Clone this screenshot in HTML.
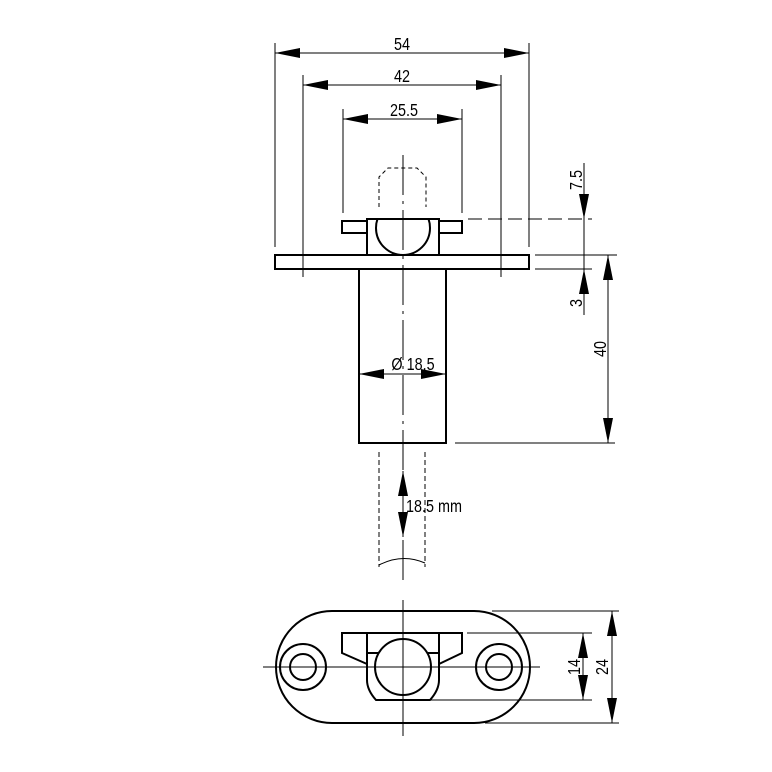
<!DOCTYPE html>
<html><head><meta charset="utf-8"><style>
html,body{margin:0;padding:0;background:#fff}
svg{display:block}
text{font-family:"Liberation Sans",sans-serif;font-size:18px;fill:#000}
</style></head><body>
<svg width="772" height="772" viewBox="0 0 772 772" xmlns="http://www.w3.org/2000/svg">
<defs>
<marker id="a" markerWidth="26" markerHeight="10" refX="25" refY="5" orient="auto-start-reverse" markerUnits="userSpaceOnUse">
<path d="M0,0 L25,5 L0,10 Z" fill="#000"/></marker>
<clipPath id="c"><rect x="360" y="219" width="90" height="40"/></clipPath>
</defs>
<g stroke="#000" fill="none" stroke-width="1">
<line x1="275" y1="43" x2="275" y2="247"/>
<line x1="529" y1="43" x2="529" y2="247"/>
<line x1="303" y1="75" x2="303" y2="277"/>
<line x1="501" y1="75" x2="501" y2="277"/>
<line x1="343" y1="109" x2="343" y2="213"/>
<line x1="462" y1="109" x2="462" y2="213"/>
<line x1="275" y1="53" x2="529" y2="53" marker-start="url(#a)" marker-end="url(#a)"/>
<line x1="303" y1="85" x2="501" y2="85" marker-start="url(#a)" marker-end="url(#a)"/>
<line x1="343" y1="119" x2="462" y2="119" marker-start="url(#a)" marker-end="url(#a)"/>
<line x1="468" y1="219" x2="592" y2="219" stroke-dasharray="14,6"/>
<line x1="535" y1="255" x2="617" y2="255"/>
<line x1="535" y1="269" x2="592" y2="269"/>
<line x1="455" y1="443" x2="615" y2="443"/>
<line x1="584" y1="163" x2="584" y2="219" marker-end="url(#a)"/>
<line x1="584" y1="315" x2="584" y2="269" marker-end="url(#a)"/>
<line x1="584" y1="219" x2="584" y2="269"/>
<line x1="608" y1="255" x2="608" y2="443" marker-start="url(#a)" marker-end="url(#a)"/>
<line x1="403" y1="155" x2="403" y2="580" stroke-dasharray="40,6,3,6"/>
<path d="M379,207 V177 L388,168 H417 L426,177 V207" stroke-dasharray="4,3"/>
<g stroke-width="2">
<rect x="275" y="255" width="254" height="14"/>
<rect x="359" y="269" width="87" height="174"/>
<path d="M367,255 V219 H439 V255"/>
<path d="M367,221 H342 V233 H367 M439,221 H462 V233 H439"/>
<circle cx="403" cy="228" r="27" clip-path="url(#c)"/>
</g>
<line x1="359" y1="374" x2="446" y2="374" marker-start="url(#a)" marker-end="url(#a)"/>
<line x1="379" y1="452" x2="379" y2="567" stroke-dasharray="5,3"/>
<line x1="425" y1="452" x2="425" y2="567" stroke-dasharray="5,3"/>
<path d="M379,565 Q402,553 425,563"/>
<line x1="403" y1="471" x2="403" y2="537" marker-start="url(#a)" marker-end="url(#a)"/>
<line x1="263" y1="667" x2="540" y2="667"/>
<line x1="403" y1="600" x2="403" y2="736"/>
<g stroke-width="2">
<path d="M332,611 H474 A56,56 0 0 1 474,723 H332 A56,56 0 0 1 332,611 Z"/>
<circle cx="303" cy="667" r="23"/><circle cx="303" cy="667" r="13"/>
<circle cx="499" cy="667" r="23"/><circle cx="499" cy="667" r="13"/>
<path d="M367,633 H342 V653 L367,664 M439,633 H462 V653 L439,664"/>
<path d="M367,633 H439 V680 Q439,690 430,700 H376 Q367,690 367,680 Z"/>
<circle cx="403" cy="667" r="28"/>
<line x1="367" y1="653" x2="378" y2="653"/><line x1="428" y1="653" x2="439" y2="653"/>
</g>
<line x1="492" y1="611" x2="619" y2="611"/>
<line x1="467" y1="633" x2="592" y2="633"/>
<line x1="425" y1="700" x2="592" y2="700"/>
<line x1="485" y1="723" x2="619" y2="723"/>
<line x1="583" y1="633" x2="583" y2="700" marker-start="url(#a)" marker-end="url(#a)"/>
<line x1="612" y1="611" x2="612" y2="723" marker-start="url(#a)" marker-end="url(#a)"/>
</g>
<g>
<text text-anchor="middle" transform="translate(402 50) scale(0.8 1)">54</text>
<text text-anchor="middle" transform="translate(402 82) scale(0.8 1)">42</text>
<text text-anchor="middle" transform="translate(404 116) scale(0.8 1)">25.5</text>
<text text-anchor="middle" transform="translate(413 370) scale(0.8 1)">Ø 18.5</text>
<text transform="translate(406 512) scale(0.8 1)">18.5 mm</text>
<text transform="translate(582 180) rotate(-90) scale(0.8 1)" text-anchor="middle">7.5</text>
<text transform="translate(582 303) rotate(-90) scale(0.8 1)" text-anchor="middle">3</text>
<text transform="translate(606 349) rotate(-90) scale(0.8 1)" text-anchor="middle">40</text>
<text transform="translate(580 667) rotate(-90) scale(0.8 1)" text-anchor="middle">14</text>
<text transform="translate(608 667) rotate(-90) scale(0.8 1)" text-anchor="middle">24</text>
</g>
</svg>
</body></html>
